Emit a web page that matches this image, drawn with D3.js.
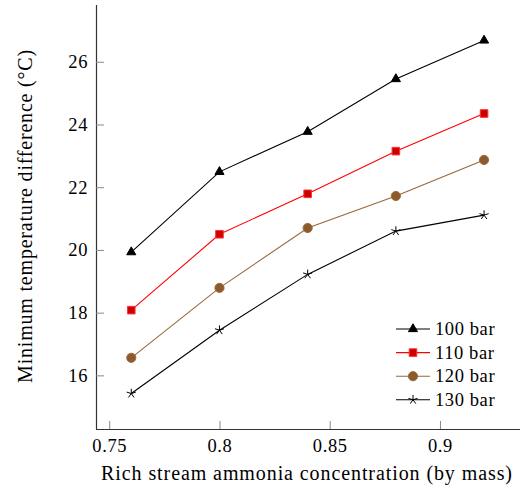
<!DOCTYPE html>
<html>
<head>
<meta charset="utf-8">
<script src="https://cdn.jsdelivr.net/npm/d3@7"></script>
<style>
body { margin: 0; background: #fff; }
</style>
</head>
<body>
<script>
var concentration = [0.76, 0.80, 0.84, 0.88, 0.92];
var bar100 = [19.93, 22.49, 23.77, 25.45, 26.68];
var bar110 = [18.08, 20.50, 21.79, 23.15, 24.35];
var bar120 = [16.56, 18.79, 20.70, 21.72, 22.87];
var bar130 = [15.42, 17.44, 19.22, 20.60, 21.11];
var seriesNames = ["100 bar", "110 bar", "120 bar", "130 bar"];
var xTicks = [0.75, 0.8, 0.85, 0.9];
var yTicks = [16, 18, 20, 22, 24, 26];

var serif = "'Times New Roman', 'Liberation Serif', Times, 'DejaVu Serif', serif";

var width = 523, height = 488;
var margin = {top: 5, right: 3, bottom: 59, left: 96};

var x = d3.scaleLinear()
    .domain([0.744, 0.9363])
    .range([margin.left, width - margin.right]);

var y = d3.scaleLinear()
    .domain([14.29, 27.81])
    .range([height - margin.bottom, margin.top]);

var svg = d3.select("body").append("svg")
    .attr("width", width)
    .attr("height", height)
    .attr("font-family", serif);

// spread letters so the Times-like font takes the wider TeX width
function spread(sel, target) {
    var node = sel.node();
    var n = node.textContent.length;
    var w = node.getComputedTextLength();
    sel.attr("letter-spacing", ((target - w) / n).toFixed(2));
}

// star marker like pgfplots "star" (five spokes)
function starPath(r) {
    var p = "";
    for (var i = 0; i < 5; i++) {
        var a = -Math.PI / 2 + i * 2 * Math.PI / 5;
        p += "M0,0L" + (r * Math.cos(a)) + "," + (r * Math.sin(a));
    }
    return p;
}

var series = [
    {name: seriesNames[0], values: bar100, line: "#000", fill: "#000", stroke: "#000", marker: d3.symbol().type(d3.symbolTriangle).size(36)()},
    {name: seriesNames[1], values: bar110, line: "#ff0000", fill: "#cc0000", stroke: "#ff3333", marker: d3.symbol().type(d3.symbolSquare).size(58)()},
    {name: seriesNames[2], values: bar120, line: "#99683a", fill: "#8c5a2c", stroke: "#9c6b3a", marker: d3.symbol().type(d3.symbolCircle).size(66)()},
    {name: seriesNames[3], values: bar130, line: "#000", fill: "none", stroke: "#000", marker: starPath(4.8)}
];

// axes
var xAxis = d3.axisBottom(x).tickValues(xTicks).tickSize(-8).tickPadding(10)
    .tickFormat(function(d) { return String(+d.toFixed(2)); });
var yAxis = d3.axisLeft(y).tickValues(yTicks).tickSize(-8).tickPadding(8)
    .tickFormat(d3.format("d"));

var gx = svg.append("g")
    .attr("transform", "translate(0," + (height - margin.bottom) + ")")
    .call(xAxis);
var gy = svg.append("g")
    .attr("transform", "translate(" + margin.left + ",0)")
    .call(yAxis);

[gx, gy].forEach(function(g) {
    g.attr("font-family", serif).attr("font-size", 18.5);
    g.select(".domain").attr("stroke", "#333").attr("stroke-width", 1.2);
    g.selectAll(".tick line").attr("stroke", "#888").attr("stroke-width", 1);
    g.selectAll(".tick text").attr("fill", "#000").attr("letter-spacing", 0.6);
});
gy.select(".domain").attr("d", "M0.5," + (height - margin.bottom) + "V" + margin.top);
gx.select(".domain").attr("d", "M" + margin.left + ",0.5H" + (width - margin.right));

// axis labels
var xLabel = svg.append("text")
    .attr("x", 307)
    .attr("y", 480)
    .attr("text-anchor", "middle")
    .attr("font-size", 20)
    .text("Rich stream ammonia concentration (by mass)");
spread(xLabel, 412);

var yLabel = svg.append("text")
    .attr("transform", "translate(32,216) rotate(-90)")
    .attr("text-anchor", "middle")
    .attr("font-size", 20)
    .text("Minimum temperature difference (\u00B0C)");
spread(yLabel, 334);

// lines and markers
var line = d3.line()
    .x(function(d, i) { return x(concentration[i]); })
    .y(function(d) { return y(d); });

series.forEach(function(s) {
    svg.append("path")
        .datum(s.values)
        .attr("fill", "none")
        .attr("stroke", s.line)
        .attr("stroke-width", 1.1)
        .attr("d", line);

    svg.selectAll(null)
        .data(s.values)
        .enter().append("path")
        .attr("transform", function(d, i) { return "translate(" + x(concentration[i]) + "," + y(d) + ")"; })
        .attr("d", s.marker)
        .attr("fill", s.fill)
        .attr("stroke", s.stroke)
        .attr("stroke-width", 1);
});

// legend
var legend = svg.append("g").attr("transform", "translate(396,329)");
var row = legend.selectAll("g").data(series).enter().append("g")
    .attr("transform", function(d, i) { return "translate(0," + (i * 23.6) + ")"; });
row.append("line")
    .attr("x1", 0).attr("x2", 34)
    .attr("stroke", function(d) { return d.line; })
    .attr("stroke-width", 1.1);
row.append("path")
    .attr("transform", "translate(17,0)")
    .attr("d", function(d) { return d.marker; })
    .attr("fill", function(d) { return d.fill; })
    .attr("stroke", function(d) { return d.stroke; })
    .attr("stroke-width", 1);
row.append("text")
    .attr("x", 39)
    .attr("dy", "0.33em")
    .attr("font-size", 18.5)
    .attr("letter-spacing", 0.6)
    .text(function(d) { return d.name; });
</script>
</body>
</html>
